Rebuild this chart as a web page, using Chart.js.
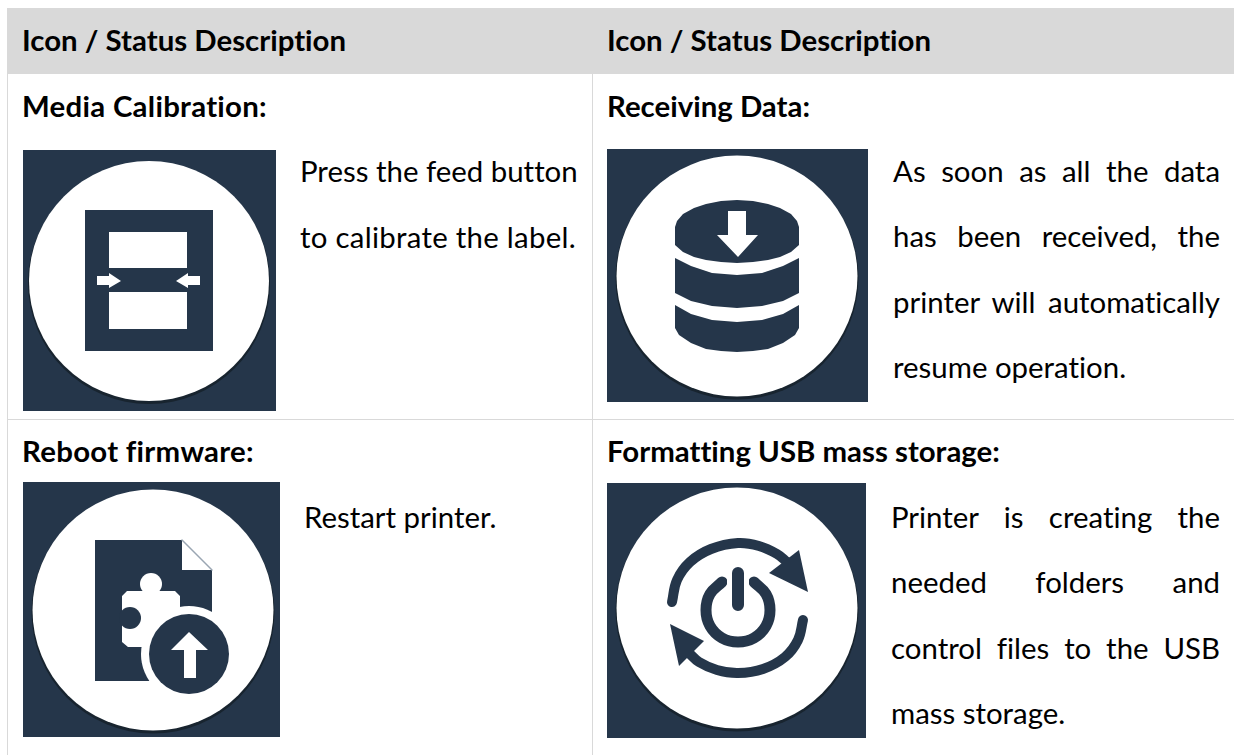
<!DOCTYPE html>
<html>
<head>
<meta charset="utf-8">
<title>Icon / Status Description</title>
<script src="https://cdn.jsdelivr.net/npm/chart.js@4"></script>
<style>
    html, body { margin: 0; padding: 0; background: #fff; }
    body { position: relative; width: 1234px; height: 755px; overflow: hidden; font-family: Lato, sans-serif; color: #000; font-variant-ligatures: none; }
    .band { position: absolute; left: 7px; top: 8px; width: 1227px; height: 66px; background: #d9d9d9; }
    .rule { position: absolute; background: #d9d9d9; }
    .txt { position: absolute; white-space: nowrap; font-size: 29.4px; line-height: 30px; }
    .bold { font-weight: 700; }
    .just { text-align-last: justify; white-space: normal; }
    .wide { letter-spacing: 0.28px; }
    .icon { position: absolute; background: #25364a; overflow: hidden; }
    .icon canvas { display: block; filter: blur(0.6px); }
</style>
</head>
<body>
<div class="band"></div>
<div class="rule" style="left:7px;top:74px;width:1px;height:681px"></div>
<div class="rule" style="left:592px;top:74px;width:1px;height:681px"></div>
<div class="rule" style="left:7px;top:419px;width:1227px;height:1px"></div>
<div id="page"></div>

<script>
// --- TEXT ---
const headerLabels = ['Icon / Status Description', 'Icon / Status Description'];
const cellTitles = ['Media Calibration:', 'Receiving Data:', 'Reboot firmware:', 'Formatting USB mass storage:'];
const calibrationLines = ['Press the feed button', 'to calibrate the label.'];
const receivingLines = ['As soon as all the data', 'has been received, the', 'printer will automatically', 'resume operation.'];
const rebootLines = ['Restart printer.'];
const formattingLines = ['Printer is creating the', 'needed folders and', 'control files to the USB', 'mass storage.'];

// --- ICON SHAPES, one unit = one pixel of the icon ---
const calibrationShade = [[126, 133, 121]];
const calibrationDisc = [[126, 131, 120]];
const calibrationFrame = [[62, 60], [190, 60], [190, 201], [62, 201]];
const calibrationUpper = [[86, 82], [164, 82], [164, 118], [86, 118]];
const calibrationLower = [[86, 142], [164, 142], [164, 179], [86, 179]];
const calibrationArrowL = [[74, 126], [86, 126], [86, 123], [98, 131], [86, 138], [86, 135], [74, 135]];
const calibrationArrowR = [[177, 126], [165, 126], [165, 123], [153, 131], [165, 138], [165, 135], [177, 135]];

const receivingShade = [[130, 129, 121.5]];
const receivingDisc = [[130, 127, 120.5]];
const receivingTop = [[68, 78], [70, 72], [76, 65], [87, 59], [99, 55], [114, 52], [130, 51], [146, 52], [161, 55], [173, 59], [184, 65], [190, 72], [192, 78], [192, 96], [184, 103], [173, 108], [161, 111], [146, 113], [130, 114], [114, 113], [99, 111], [87, 108], [76, 103], [68, 96]];
const receivingMiddle = [[68, 109], [84, 117], [105, 124], [130, 126], [155, 124], [176, 117], [192, 109], [192, 144], [176, 152], [155, 157], [130, 159], [105, 157], [84, 152], [68, 144]];
const receivingBottom = [[68, 156], [84, 165], [105, 171], [130, 173], [155, 171], [176, 165], [192, 156], [192, 179], [188, 186], [176, 194], [161, 200], [146, 202], [130, 203], [114, 202], [99, 200], [84, 194], [72, 186], [68, 179]];
const receivingArrow = [[121, 62], [139, 62], [139, 86], [151, 86], [131, 108], [110, 86], [121, 86]];

const rebootShade = [[130, 130, 121.5]];
const rebootDisc = [[130, 128, 120.5]];
const rebootPage = [[72, 58], [159, 58], [189, 88], [189, 199], [72, 199]];
const rebootFold = [[159, 58], [189, 88], [159, 88]];
const rebootFoldEdge = [[159, 58], [189, 88]];
const rebootPuzzle = [[104, 109], [152, 109], [157, 114], [157, 165], [105, 165], [99, 160], [99, 114]];
const rebootKnob = [[128, 102, 11]];
const rebootNotch = [[107, 136, 11]];
const rebootHalo = [[166, 172, 48]];
const rebootBadge = [[166, 172, 40]];
const rebootArrow = [[166, 150], [185, 168], [173, 168], [173, 196], [161, 196], [161, 168], [148, 168]];

const formattingShade = [[130, 127, 121.5]];
const formattingDisc = [[130, 125, 120.5]];
const formattingRing = [[147, 99], [159, 111], [163, 127], [159, 143], [147, 155], [131, 159], [115, 155], [103, 143], [99, 127], [103, 111], [115, 99]];
const formattingBar = [[131, 90], [131, 122]];
const formattingArcTop = [[65, 119], [70, 97], [83, 79], [104, 66], [131, 60], [152, 63], [170, 71], [180, 79]];
const formattingHeadTop = [[192, 67], [201, 109], [162, 90]];
const formattingArcBottom = [[196, 137], [191, 157], [178, 174], [156, 186], [131, 190], [110, 187], [92, 179], [82, 170]];
const formattingHeadBottom = [[63, 141], [72, 183], [97, 158]];

const NAVY = '#25364a';
const SHADE = '#18242f';
const WHITE = '#ffffff';

// --- DATASET HELPERS ---
function toPoints(list) {
    return list.map(p => ({ x: p[0], y: p[1] }));
}

function poly(list, color) {
    return { type: 'scatter', showLine: true, fill: 'shape', backgroundColor: color, borderColor: color, borderWidth: 0, pointRadius: 0, data: toPoints(list) };
}

function stroke(list, color, width, tension) {
    return { type: 'scatter', showLine: true, fill: false, borderColor: color, borderWidth: width, tension: tension, borderCapStyle: 'round', pointRadius: 0, data: toPoints(list) };
}

function disc(list, color) {
    return { type: 'bubble', backgroundColor: color, borderWidth: 0, data: list.map(p => ({ x: p[0], y: p[1], r: p[2] })) };
}

// Chart.js paints the first dataset last, so flip the list to paint back to front
function drawIcon(box, layers) {
    const wrap = document.createElement('div');
    wrap.className = 'icon';
    wrap.style.cssText = `left:${box.left}px;top:${box.top}px;width:${box.w}px;height:${box.h}px`;
    const canvas = document.createElement('canvas');
    canvas.width = box.w;
    canvas.height = box.h;
    wrap.appendChild(canvas);
    page.appendChild(wrap);

    new Chart(canvas.getContext('2d'), {
        type: 'scatter',
        data: { datasets: layers.slice().reverse() },
        options: {
            responsive: false,
            animation: false,
            layout: { padding: 0, autoPadding: false }, // bubbles would otherwise shrink the plot area
            plugins: { legend: { display: false }, tooltip: { enabled: false } },
            scales: {
                x: { type: 'linear', display: false, min: 0, max: box.w },
                y: { type: 'linear', display: false, min: 0, max: box.h, reverse: true }
            }
        }
    });
}

function addText(str, left, top, cls, width) {
    const el = document.createElement('div');
    el.className = 'txt ' + cls;
    el.textContent = str;
    el.style.left = left + 'px';
    el.style.top = top + 'px';
    if (width) el.style.width = width + 'px';
    page.appendChild(el);
}

const page = document.getElementById('page');

// --- TEXT PLACEMENT ---
addText(headerLabels[0], 22, 25, 'bold');
addText(headerLabels[1], 607, 25, 'bold');
addText(cellTitles[0], 22, 91, 'bold wide');
addText(cellTitles[1], 607, 91, 'bold');
addText(cellTitles[2], 22, 436, 'bold wide');
addText(cellTitles[3], 607, 436, 'bold');

calibrationLines.forEach((s, i) => addText(s, 300, 156 + i * 65.5, i === 1 ? 'wide' : ''));
receivingLines.forEach((s, i) => addText(s, 893, 156 + i * 65.3, i < 3 ? 'just' : '', 327));
rebootLines.forEach((s, i) => addText(s, 304, 502 + i * 65, ''));
formattingLines.forEach((s, i) => addText(s, 891, 502 + i * 65.3, i < 3 ? 'just' : '', 329));

// --- ICONS ---
drawIcon({ left: 23, top: 150, w: 253, h: 261 }, [
    disc(calibrationShade, SHADE),
    disc(calibrationDisc, WHITE),
    poly(calibrationFrame, NAVY),
    poly(calibrationUpper, WHITE),
    poly(calibrationLower, WHITE),
    poly(calibrationArrowL, WHITE),
    poly(calibrationArrowR, WHITE)
]);

drawIcon({ left: 607, top: 149, w: 261, h: 253 }, [
    disc(receivingShade, SHADE),
    disc(receivingDisc, WHITE),
    poly(receivingTop, NAVY),
    poly(receivingMiddle, NAVY),
    poly(receivingBottom, NAVY),
    poly(receivingArrow, WHITE)
]);

drawIcon({ left: 23, top: 482, w: 257, h: 255 }, [
    disc(rebootShade, SHADE),
    disc(rebootDisc, WHITE),
    poly(rebootPage, NAVY),
    poly(rebootFold, WHITE),
    stroke(rebootFoldEdge, '#9aa6b2', 1.5, 0),
    poly(rebootPuzzle, WHITE),
    disc(rebootKnob, WHITE),
    disc(rebootNotch, NAVY),
    disc(rebootHalo, WHITE),
    disc(rebootBadge, NAVY),
    poly(rebootArrow, WHITE)
]);

drawIcon({ left: 607, top: 483, w: 259, h: 255 }, [
    disc(formattingShade, SHADE),
    disc(formattingDisc, WHITE),
    stroke(formattingRing, NAVY, 11, 0.4),
    stroke(formattingBar, WHITE, 22, 0),
    stroke(formattingBar, NAVY, 12, 0),
    stroke(formattingArcTop, NAVY, 10, 0.4),
    poly(formattingHeadTop, NAVY),
    stroke(formattingArcBottom, NAVY, 10, 0.4),
    poly(formattingHeadBottom, NAVY)
]);
</script>
</body>
</html>
